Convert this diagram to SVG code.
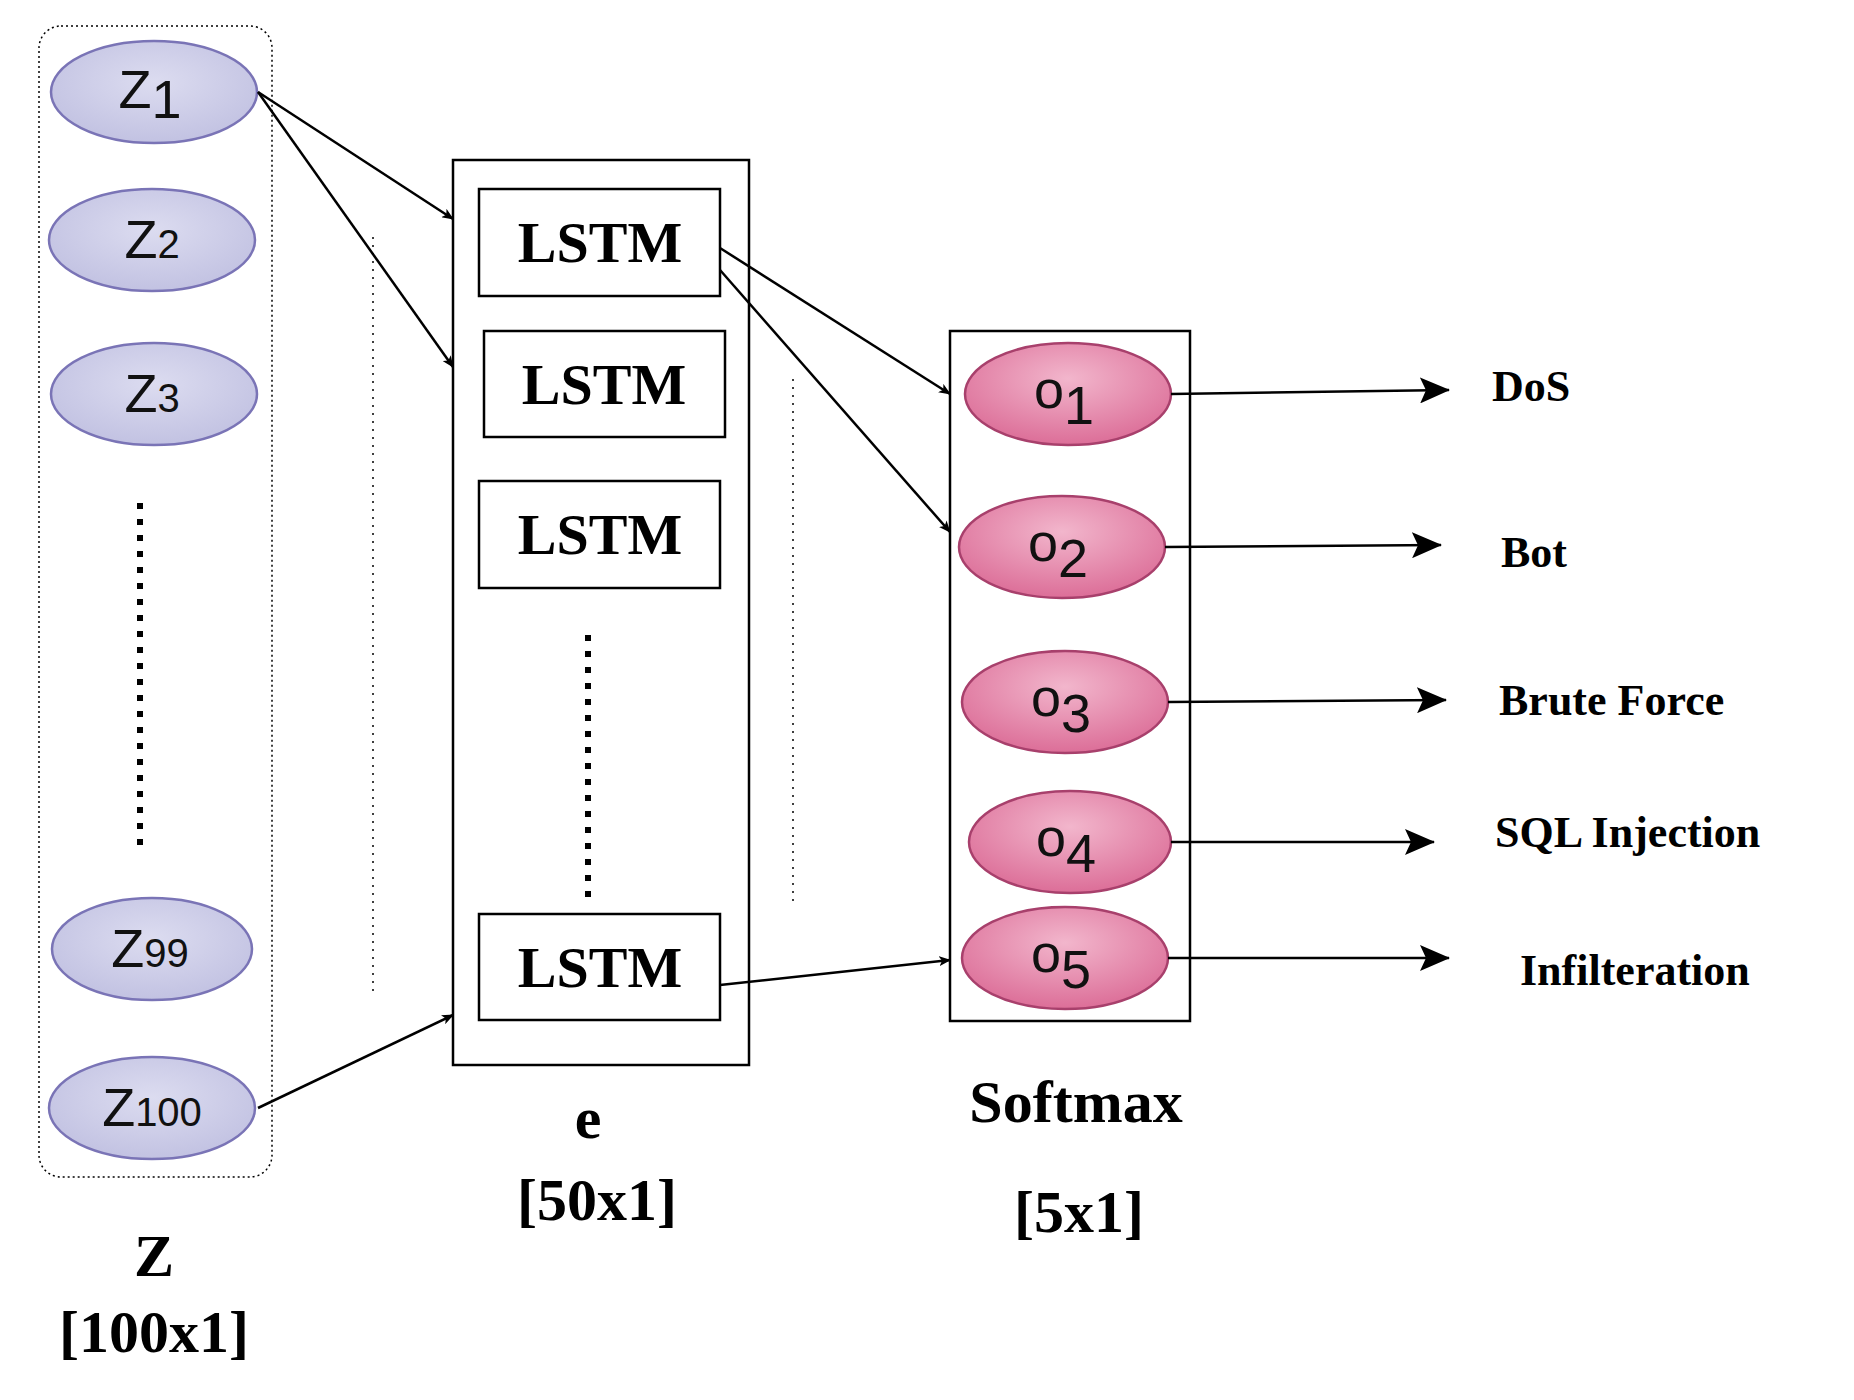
<svg xmlns="http://www.w3.org/2000/svg" width="1854" height="1400" viewBox="0 0 1854 1400">
<defs>
<marker id="ah" markerWidth="12" markerHeight="10" refX="11" refY="5" orient="auto" markerUnits="userSpaceOnUse"><path d="M0,0 L12,5 L0,10 L3,5 Z" fill="#000"/></marker>
<marker id="ahb" markerWidth="30" markerHeight="26" refX="29" refY="13" orient="auto" markerUnits="userSpaceOnUse"><path d="M0,0 L30,13 L0,26 L6,13 Z" fill="#000"/></marker>
<radialGradient id="zg" cx="0.5" cy="0.4" r="0.6"><stop offset="0" stop-color="#dcdcf0"/><stop offset="1" stop-color="#c2c2e2"/></radialGradient>
<radialGradient id="og" cx="0.5" cy="0.35" r="0.65"><stop offset="0" stop-color="#f2b6cc"/><stop offset="1" stop-color="#dc6e98"/></radialGradient>
</defs>
<style>
.z{fill:url(#zg);stroke:#7a74b6;stroke-width:2.5}
.o{fill:url(#og);stroke:#a8406c;stroke-width:2.5}
.zt{font-family:"Liberation Sans",Arial,sans-serif;font-size:54px;fill:#111;text-anchor:middle}
.zs{font-size:40px}
.box{fill:#fff;stroke:#000;stroke-width:2.5}
.lt{font-family:"Liberation Serif","Times New Roman",serif;font-weight:bold;font-size:58px;text-anchor:middle}
.lab{font-family:"Liberation Serif","Times New Roman",serif;font-weight:bold;font-size:44px}
.cap{font-family:"Liberation Serif","Times New Roman",serif;font-weight:bold;font-size:60px;text-anchor:middle}
.ln{stroke:#000;stroke-width:2.5;fill:none}
.thin{stroke:#000;stroke-width:1.5;stroke-dasharray:2 6;fill:none}
.thick{stroke:#000;stroke-width:6;stroke-dasharray:6 10;fill:none}
</style>
<rect x="39" y="26" width="233" height="1151" rx="22" fill="none" stroke="#000" stroke-width="1.5" stroke-dasharray="2 3"/>
<line class="thick" x1="140" y1="503" x2="140" y2="845"/>
<line class="thin" x1="373" y1="237" x2="373" y2="994"/>
<rect id="ebox" class="box" x="453" y="160" width="296" height="905"/>
<line class="thick" x1="588" y1="635" x2="588" y2="905"/>
<line class="thin" x1="793" y1="379" x2="793" y2="905"/>
<rect id="sbox" class="box" x="950" y="331" width="240" height="690"/>
<g id="z1"><ellipse class="z" cx="154" cy="92" rx="103" ry="51"/><text class="zt" x="150" y="108">Z<tspan dy="10">1</tspan></text></g>
<g id="z2"><ellipse class="z" cx="152" cy="240" rx="103" ry="51"/><text class="zt" x="152" y="258">Z<tspan class="zs">2</tspan></text></g>
<g id="z3"><ellipse class="z" cx="154" cy="394" rx="103" ry="51"/><text class="zt" x="152" y="412">Z<tspan class="zs">3</tspan></text></g>
<g id="z99"><ellipse class="z" cx="152" cy="949" rx="100" ry="51"/><text class="zt" x="150" y="967">Z<tspan class="zs">99</tspan></text></g>
<g id="z100"><ellipse class="z" cx="152" cy="1108" rx="103" ry="51"/><text class="zt" x="152" y="1126">Z<tspan class="zs">100</tspan></text></g>
<g id="l1"><rect class="box" x="479" y="189" width="241" height="107"/><text class="lt" x="600" y="262">LSTM</text></g>
<g id="l2"><rect class="box" x="484" y="331" width="241" height="106"/><text class="lt" x="604" y="404">LSTM</text></g>
<g id="l3"><rect class="box" x="479" y="481" width="241" height="107"/><text class="lt" x="600" y="554">LSTM</text></g>
<g id="l4"><rect class="box" x="479" y="914" width="241" height="106"/><text class="lt" x="600" y="987">LSTM</text></g>
<g id="o1"><ellipse class="o" cx="1068" cy="394" rx="103" ry="51"/><text class="zt" x="1064" y="408">o<tspan dy="16">1</tspan></text></g>
<g id="o2"><ellipse class="o" cx="1062" cy="547" rx="103" ry="51"/><text class="zt" x="1058" y="561">o<tspan dy="16">2</tspan></text></g>
<g id="o3"><ellipse class="o" cx="1065" cy="702" rx="103" ry="51"/><text class="zt" x="1061" y="716">o<tspan dy="16">3</tspan></text></g>
<g id="o4"><ellipse class="o" cx="1070" cy="842" rx="101" ry="51"/><text class="zt" x="1066" y="856">o<tspan dy="16">4</tspan></text></g>
<g id="o5"><ellipse class="o" cx="1065" cy="958" rx="103" ry="51"/><text class="zt" x="1061" y="972">o<tspan dy="16">5</tspan></text></g>
<g id="connectors">
<line class="ln" x1="258" y1="92" x2="453" y2="219" marker-end="url(#ah)"/>
<line class="ln" x1="258" y1="92" x2="453" y2="367" marker-end="url(#ah)"/>
<line class="ln" x1="258" y1="1108" x2="453" y2="1015" marker-end="url(#ah)"/>
<line class="ln" x1="720" y1="248" x2="950" y2="394" marker-end="url(#ah)"/>
<line class="ln" x1="720" y1="270" x2="950" y2="532" marker-end="url(#ah)"/>
<line class="ln" x1="720" y1="985" x2="950" y2="960" marker-end="url(#ah)"/>
<line class="ln" x1="1171" y1="394" x2="1449" y2="390" marker-end="url(#ahb)"/>
<line class="ln" x1="1165" y1="547" x2="1441" y2="545" marker-end="url(#ahb)"/>
<line class="ln" x1="1168" y1="702" x2="1446" y2="700" marker-end="url(#ahb)"/>
<line class="ln" x1="1171" y1="842" x2="1434" y2="842" marker-end="url(#ahb)"/>
<line class="ln" x1="1168" y1="958" x2="1449" y2="958" marker-end="url(#ahb)"/>
</g>
<text class="lab" x="1492" y="401">DoS</text>
<text class="lab" x="1501" y="567">Bot</text>
<text class="lab" x="1499" y="715">Brute Force</text>
<text class="lab" x="1495" y="847">SQL Injection</text>
<text class="lab" x="1520" y="985">Infilteration</text>
<text class="cap" x="588" y="1138">e</text>
<text class="cap" x="597" y="1220">[50x1]</text>
<text class="cap" x="1076" y="1122">Softmax</text>
<text class="cap" x="1079" y="1232">[5x1]</text>
<text class="cap" x="154" y="1276">Z</text>
<text class="cap" x="154" y="1352">[100x1]</text>
</svg>
